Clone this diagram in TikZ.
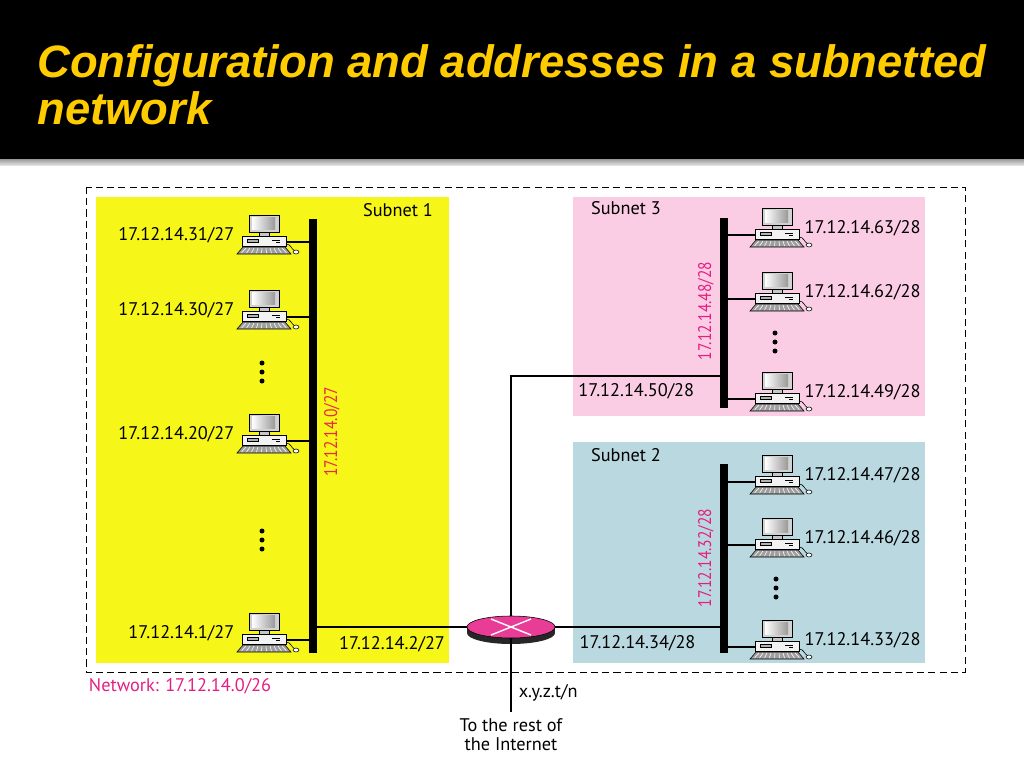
\documentclass[tikz,border=0pt]{standalone}
\usepackage{fontspec}
\setmainfont{PT Sans}
\newfontfamily\titlefont{Liberation Sans}
\newfontfamily\narrowfont[FakeStretch=0.85]{PT Sans}
\usetikzlibrary{shapes.geometric, positioning}
\definecolor{titlegold}{RGB}{255,204,0}
\definecolor{subyellow}{RGB}{246,246,24}
\definecolor{subpink}{RGB}{251,205,228}
\definecolor{subblue}{RGB}{185,216,224}
\definecolor{netmag}{RGB}{228,30,130}
\definecolor{netred}{RGB}{232,40,70}
\definecolor{routermag}{RGB}{232,60,150}

\begin{document}
\begin{tikzpicture}[
            x=0.025cm, y=-0.025cm,
            font=\fontsize{13}{15}\selectfont,
            addr/.style={inner sep=1pt},
            netaddr/.style={rotate=90, inner sep=0pt, font=\narrowfont\fontsize{13}{15}\selectfont},
            bus/.style={rectangle, fill=black, minimum width=0.2cm, inner sep=0pt},
            link/.style={draw, line width=1.1pt},
            router/.style={ellipse, draw=black, fill=routermag, 
                minimum width=2.2cm, minimum height=0.55cm, inner sep=0pt
            },
            pics/computer/.style={code={
                % màn hình
                \draw[fill=gray!35] (-15,-20) rectangle (15,-3);
                \shade[left color=white, right color=gray!80] (-12,-18) rectangle (11,-6);
                \draw[fill=gray!45] (-5,-3) rectangle (5,1);
                % thân máy
                \draw[fill=gray!10] (-22,1) rectangle (22,11);
                \draw[fill=gray!60] (-17,4) rectangle (-6,7);
                \draw (8,5) -- (16,5) (12,7) -- (16,7);
                % bàn phím + chuột
                \draw[fill=gray!75] (-21,12) -- (21,12) -- (27,19) -- (-27,19) -- cycle;
                \foreach \k in {-18,-14,...,18} \draw[white] (\k,13) -- (\k*1.25,18);
                \draw (22,9) .. controls (27,9) and (27,14) .. (31,16);
                \draw[fill=white] (32,17) ellipse [x radius=3, y radius=2];
                \coordinate (-c) at (0,0);
                \coordinate (-l) at (-22,7);
                \coordinate (-r) at (22,7);
            }}
        ]
            \useasboundingbox (0,0) rectangle (1024,768);
            % Tiêu đề
            \fill[black] (0,0) rectangle (1024,160);
            \shade[top color=gray!70, bottom color=gray!15] (0,160) rectangle (1024,166);
            \node[anchor=north west, inner sep=0pt, align=left, text=titlegold,
                font=\titlefont\bfseries\itshape\fontsize{32.3}{33.4}\selectfont] (title) at (37,44)
                {Configuration and addresses in a subnetted\\network};

            % Các mạng con
            \draw[dash pattern=on 5pt off 3pt, line width=0.7pt] (86,187) rectangle (965,672);
            \fill[subyellow] (96,197) rectangle (449,663);
            \fill[subpink] (573,197) rectangle (925,416);
            \fill[subblue] (573,442) rectangle (925,663);
            \node (s1) at (398,210) {Subnet 1};
            \node (s3) at (626,208) {Subnet 3};
            \node (s2) at (626,455) {Subnet 2};
            \node[anchor=west, text=netmag] (netlbl) at (84,686) {Network: 17.12.14.0/26};

            % Các bus
            \node[bus, minimum height=10.85cm] (bus1) at (313,436) {};
            \node[bus, minimum height=4.75cm] (bus3) at (724,313) {};
            \node[bus, minimum height=4.725cm] (bus2) at (724,558.5) {};
            \node[netaddr, text=netred] (n1) at (332,432) {17.12.14.0/27};
            \node[netaddr, text=netmag] (n3) at (706,311) {17.12.14.48/28};
            \node[netaddr, text=netmag] (n2) at (706,558) {17.12.14.32/28};

            % Các máy tính
            \foreach \y/\h [count=\i] in {235/31, 310/30, 434/20, 633/1} {
                \pic (a\i) at (264,\y) {computer};
                \node[addr, left=0.7cm of a\i-c] (la\i) {17.12.14.\h/27};
                \draw[link] (a\i-r) -- (a\i-r -| bus1.west);
            }
            \foreach \y/\h [count=\i] in {228/63, 292/62, 392/49} {
                \pic (c\i) at (777,\y) {computer};
                \node[addr, right=0.65cm of c\i-c] (lc\i) {17.12.14.\h/28};
                \draw[link] (c\i-l) -- (c\i-l -| bus3.east);
            }
            \foreach \y/\h [count=\i] in {475/47, 538/46, 640/33} {
                \pic (b\i) at (777,\y) {computer};
                \node[addr, right=0.65cm of b\i-c] (lb\i) {17.12.14.\h/28};
                \draw[link] (b\i-l) -- (b\i-l -| bus2.east);
            }
            \foreach \x/\y in {262/372, 262/540, 775/342, 776/588}
                \foreach \d in {-9,0,9} \fill (\x,\y+\d) circle [radius=2.5];

            % Router
            \fill[black!85] (467,627) rectangle (555,633);
            \fill[black!85] (511,633) ellipse [x radius=44, y radius=11];
            \node[router] (router) at (511,627) {};
            \draw[white, line width=1pt] ([shift={(-20,-8)}]router.center) -- ([shift={(20,8)}]router.center)
                ([shift={(-20,8)}]router.center) -- ([shift={(20,-8)}]router.center);
            \coordinate (j3) at (511,376);
            \coordinate (inet) at (511,712);

            % Vẽ các đường nối
            \path[link] (router.west) -- node[addr, below=5pt] (l2) {17.12.14.2/27} (router.west -| bus1.east);
            \path[link] (router.east) -- node[addr, below=4.5pt] (l34) {17.12.14.34/28} (router.east -| bus2.west);
            \path[link] (router.north) -- (j3) -- node[addr, pos=0.6, below=4pt] (l50) {17.12.14.50/28} (j3 -| bus3.west);
            \path[link] (router.south) -- node[addr, pos=0.74, right=4pt] (lx) {x.y.z.t/n} (inet);
            \node[below=1pt of inet, align=center, font=\fontsize{13}{13.5}\selectfont] (rest) {To the rest of\\the Internet};
        \end{tikzpicture}
\end{document}
